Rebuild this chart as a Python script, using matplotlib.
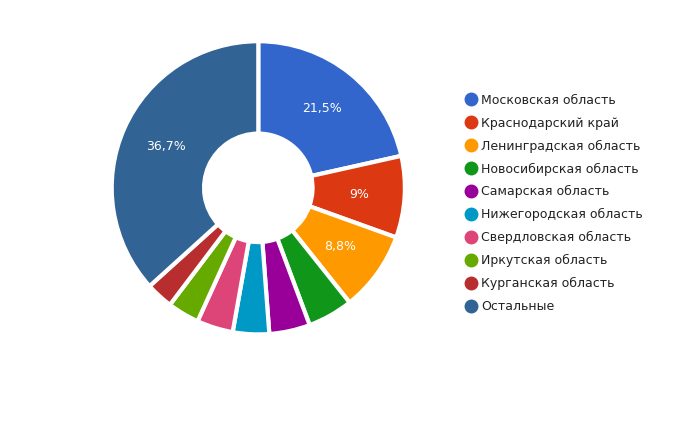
import matplotlib.pyplot as plt
from matplotlib.lines import Line2D
import numpy as np

regions = ['Московская область', 'Краснодарский край', 'Ленинградская область',
           'Новосибирская область', 'Самарская область', 'Нижегородская область',
           'Свердловская область', 'Иркутская область', 'Курганская область', 'Остальные']
shares = [21.5, 9.0, 8.8, 5.0, 4.5, 4.0, 4.0, 3.5, 3.0, 36.7]
labels = ['21,5%', '9%', '8,8%', '', '', '', '', '', '', '36,7%']
colors = ['#3366cc', '#dc3912', '#ff9900', '#109618', '#990099',
          '#0099c6', '#dd4477', '#66aa00', '#b82e2e', '#316395']

fig = plt.figure(figsize=(7, 4.23), dpi=100)
ax = fig.add_axes([0.369 - 0.2115, 0.556 - 0.35, 0.423, 0.70])
wedges, _ = ax.pie(shares, colors=colors, startangle=90, counterclock=False,
                   wedgeprops=dict(width=0.63, edgecolor='white', linewidth=3))
cum = np.cumsum([0] + shares[:-1])
for s, c, lab in zip(shares, cum, labels):
    if not lab:
        continue
    ang = np.deg2rad(90 - (c + s / 2) * 3.6)
    r = 0.69
    ax.text(r * np.cos(ang), r * np.sin(ang), lab, color='white',
            ha='center', va='center', fontsize=9)
ax.set_xlim(-1.01, 1.01)
ax.set_ylim(-1.01, 1.01)
ax.set_aspect('equal')

handles = [Line2D([], [], marker='o', linestyle='', markersize=9,
                  markerfacecolor=c, markeredgecolor=c) for c in colors]
fig.legend(handles, regions, loc='upper left', bbox_to_anchor=(0.648, 0.805),
           frameon=False, fontsize=9, handletextpad=0.3, labelspacing=0.79,
           handlelength=1.0, labelcolor='#222222')
fig.savefig('out.png')
